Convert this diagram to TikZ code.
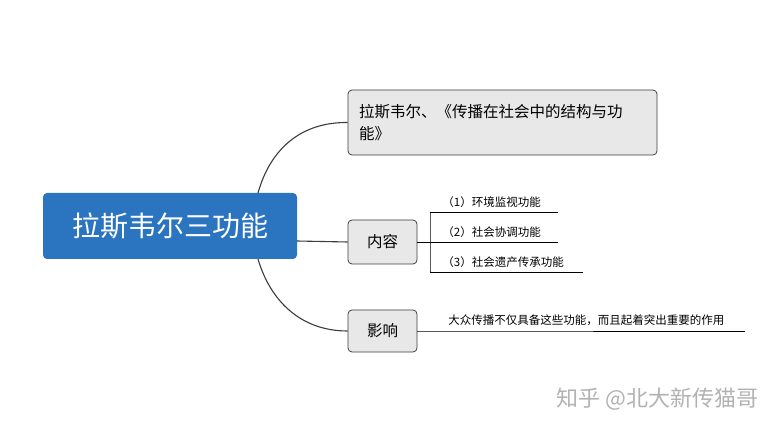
\documentclass[tikz,border=0pt]{standalone}
\usepackage{fontspec}
\setmainfont{Noto Sans CJK SC}
\definecolor{rootblue}{RGB}{43,116,192}
\definecolor{boxgray}{RGB}{232,232,232}
\definecolor{linegray}{RGB}{60,60,60}
\tikzset{every picture/.style={line width=0.75pt}}
\tikzset{
  topic/.style={draw=linegray,fill=boxgray,rounded corners=4pt,inner sep=0pt,font=\fontsize{15.5}{22}\selectfont},
  leaf/.style={anchor=south west,inner sep=2pt,font=\fontsize{11.5}{13}\selectfont},
  conn/.style={draw=linegray,line width=1.1pt},
  uline/.style={draw=black,line width=0.6pt}
}
\begin{document}
\begin{tikzpicture}[x=1pt,y=-1pt]
\useasboundingbox (0,0) rectangle (779,430);

% Root
\node (root) [fill=rootblue,rounded corners=4pt,minimum width=254pt,minimum height=66pt,text=white,font=\fontsize{28}{32}\selectfont] at (170,226) {拉斯韦尔三功能};

% Topics
\node (src) [topic,minimum width=309pt,minimum height=65pt,align=left,text width=287pt] at (502.5,122.5) {拉斯韦尔、《传播在社会中的结构与功\\能》};
\node (cont) [topic,minimum width=69pt,minimum height=44pt] at (382.5,242) {内容};
\node (eff) [topic,minimum width=69pt,minimum height=42pt] at (382.5,331) {影响};

% Connectors
\coordinate (rmid) at (297,241);
\draw [conn] (258,193) .. controls (270,150) and (300,122) .. (src.west);
\draw [conn] (rmid) -- (cont.west);
\draw [conn] (258,259) .. controls (270,300) and (300,331) .. (eff.west);

% Content leaves
\coordinate (b1) at (430,212);
\coordinate (b2) at (430,242);
\coordinate (b3) at (430,272);
\draw [uline] (cont.east) -- (b2);
\draw [uline] (b1) .. controls (430,212) .. (430,218) -- (430,266) .. controls (430,272) .. (b3);
\draw [uline] (b1) -- (558,212);
\draw [uline] (b2) -- (558,242);
\draw [uline] (b3) -- (583,272);
\node (c1) [leaf] at (440,210) {（1）环境监视功能};
\node (c2) [leaf] at (440,240) {（2）社会协调功能};
\node (c3) [leaf] at (440,270) {（3）社会遗产传承功能};

% Effect leaf
\coordinate (e1) at (445,331);
\draw [uline] (eff.east) -- (e1) -- (745,331);
\node (e2) [leaf] at (446,328) {大众传播不仅具备这些功能，而且起着突出重要的作用};

% Watermark
\node (wm) [text=black!30,font=\fontsize{22}{26}\selectfont,anchor=east] at (762,399) {知乎 @北大新传猫哥};
\end{tikzpicture}
\end{document}
